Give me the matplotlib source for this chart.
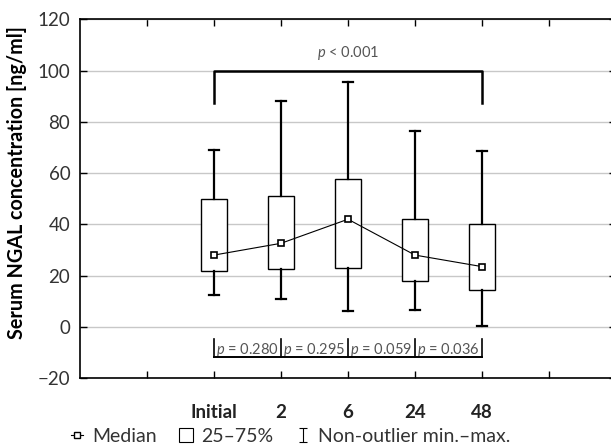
import numpy as np
import matplotlib.pyplot as plt
from matplotlib.lines import Line2D
from matplotlib.path import Path

plt.rcParams['font.family'] = ['Lato', 'DejaVu Sans']
plt.rcParams['mathtext.fontset'] = 'custom'
plt.rcParams['mathtext.it'] = 'Lato:italic'
plt.rcParams['mathtext.rm'] = 'Lato'

categories = ['Initial', '2', '6', '24', '48']
whisker_low = [12.3, 10.7, 6.3, 6.6, 0.3]
q1 = [21.9, 22.5, 23.0, 17.9, 14.4]
median = [28.0, 32.6, 42.0, 28.0, 23.5]
q3 = [49.8, 51.0, 57.7, 42.0, 40.1]
whisker_high = [69.0, 88.2, 95.5, 76.5, 68.8]
pair_p = ['0.280', '0.295', '0.059', '0.036']
overall_p = '0.001'

dark = '#333333'
grey = '#555555'

fig = plt.figure(figsize=(6.11, 4.48), dpi=100)
ax = fig.add_axes([80 / 611, 70 / 448, 536 / 611, 358.5 / 448])

pos = np.arange(1, len(categories) + 1)
stats = []
for i in range(len(categories)):
    stats.append(dict(whislo=whisker_low[i], q1=q1[i], med=median[i],
                      q3=q3[i], whishi=whisker_high[i]))

ax.bxp(stats, positions=pos, widths=0.4, showfliers=False, patch_artist=True,
       boxprops=dict(facecolor='white', edgecolor='black', linewidth=1.0),
       whiskerprops=dict(color='black', linewidth=1.6),
       capprops=dict(color='black', linewidth=1.6),
       medianprops=dict(linewidth=0), capwidths=0.16, zorder=3)

ax.plot(pos, median, color='black', linewidth=0.8, marker='s', markersize=4.5,
        markerfacecolor='white', markeredgecolor='black', markeredgewidth=1.2,
        zorder=4)

# overall comparison bracket
ax.plot([pos[0], pos[0], pos[-1], pos[-1]], [87.5, 100, 100, 87.5],
        color='black', linewidth=1.8, zorder=4)
ax.text((pos[0] + pos[-1]) / 2, 107, '$p$ < ' + overall_p, ha='center',
        va='center', fontsize=10.5, color=grey)

# pairwise brackets
for x in pos:
    ax.plot([x, x], [-4.8, -11.8], color='black', linewidth=1.2, zorder=4)
ax.plot([pos[0], pos[-1]], [-11.8, -11.8], color='black', linewidth=1.4, zorder=4)
for i, p in enumerate(pair_p):
    ax.text(pos[i] + 0.5, -10.8, '$p$ = ' + p, ha='center', va='baseline',
            fontsize=10.5, color=grey)

ax.set_xlim(-1, 7)
ax.set_ylim(-20, 120)
ax.set_yticks(np.arange(-20, 121, 20))
ax.set_yticklabels(['\u221220', '0', '20', '40', '60', '80', '100', '120'])
ax.yaxis.grid(True, color='#c8c8c8', linewidth=1.0, zorder=0)
ax.set_axisbelow(True)

ax.set_xticks(np.arange(0, 7))
ax.set_xticklabels([''] + categories + [''], fontweight='bold', fontsize=13.5, color='#222222')
ax.tick_params(axis='x', direction='in', length=5, width=1, top=True, pad=19)
ax.tick_params(axis='y', direction='in', length=5, width=1, right=True,
               labelsize=13.5, labelcolor=dark, pad=7)
for s in ax.spines.values():
    s.set_linewidth(1.2)

ax.set_ylabel('Serum NGAL concentration [ng/ml]', fontweight='bold', fontsize=14.2,
              color='black', va='center')
ax.yaxis.set_label_coords(-0.118, 0.545)

whisk_marker = Path([(-0.6, 1), (0.6, 1), (0, 1), (0, -1), (-0.6, -1), (0.6, -1)],
                    [Path.MOVETO, Path.LINETO, Path.MOVETO, Path.LINETO,
                     Path.MOVETO, Path.LINETO])
handles = [
    Line2D([], [], color='black', linewidth=0.8, marker='s', markersize=4,
           markerfacecolor='white', markeredgecolor='black'),
    Line2D([], [], linestyle='none', marker='s', markersize=10,
           markerfacecolor='white', markeredgecolor='black', markeredgewidth=0.8),
    Line2D([], [], linestyle='none', marker=whisk_marker, markersize=10,
           markeredgecolor='black', markeredgewidth=0.8),
]
leg = fig.legend(handles, ['Median', '25\u201375%', 'Non-outlier min.\u2013max.'],
                 loc='center left', bbox_to_anchor=(0.1, 0.026), ncol=3,
                 frameon=False, borderpad=0, handlelength=0.65, handletextpad=0.45,
                 columnspacing=1.2, fontsize=14)
for t in leg.get_texts():
    t.set_color(dark)

fig.savefig('out.png', dpi=100)
